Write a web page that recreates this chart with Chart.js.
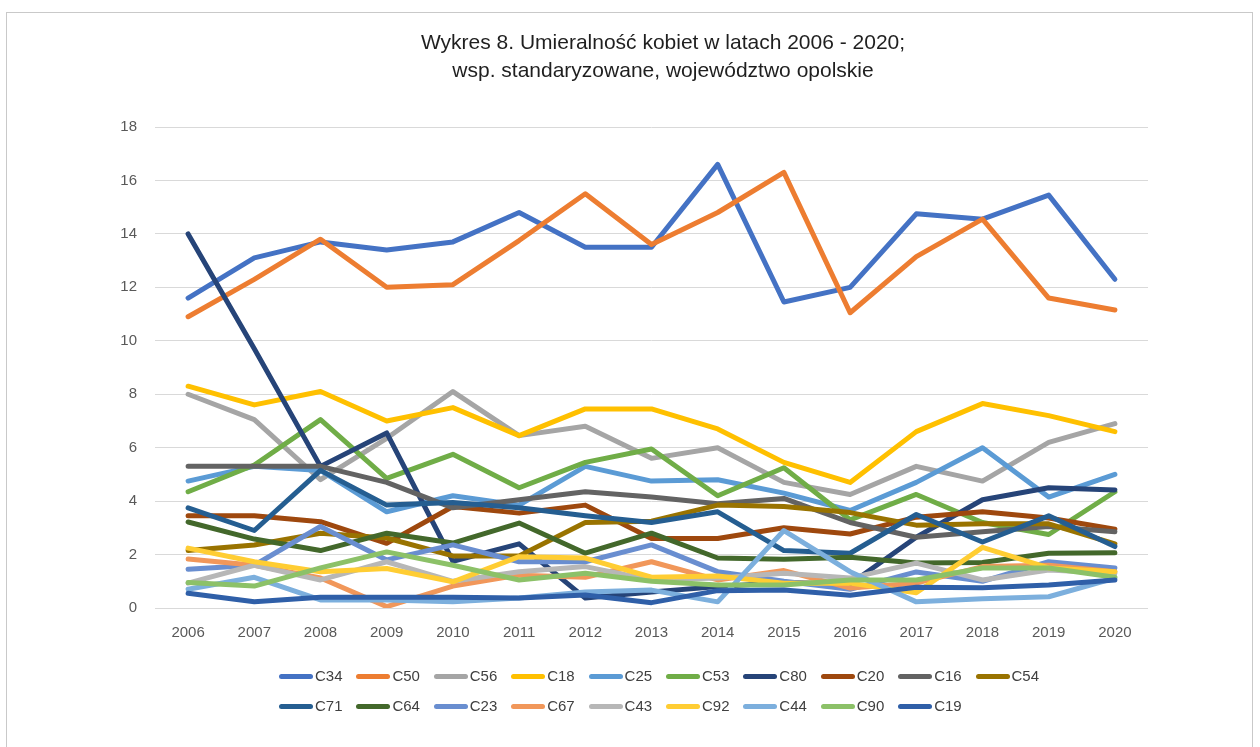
<!DOCTYPE html>
<html lang="pl">
<head>
<meta charset="utf-8">
<title>Wykres 8</title>
<script src="https://cdn.jsdelivr.net/npm/chart.js"></script>
<style>
  html, body { margin: 0; padding: 0; background: #fff; }
  body { width: 1260px; height: 747px; position: relative; overflow: hidden; font-family: "Liberation Sans", Arial, sans-serif; }
  #frame { position: absolute; left: 6px; top: 12px; width: 1247px; height: 760px; border: 1px solid #c9c9c9; box-sizing: border-box; }
  #chart { position: absolute; left: 0; top: 0; }
  #title { position: absolute; left: 313px; top: 28px; width: 700px; text-align: center; font-size: 21px; line-height: 28px; color: #1f1f1f; }
  #legend { position: absolute; left: 277px; top: 664px; width: 800px; }
  .row { height: 30px; white-space: nowrap; }
  .item { display: inline-block; width: 77.4px; height: 24px; position: relative; font-size: 15px; color: #404040; }
  .item i { position: absolute; left: 2px; top: 10px; width: 34px; height: 5px; border-radius: 3px; }
  .item span { position: absolute; left: 38px; top: 3px; }
</style>
</head>
<body>
<div id="frame"></div>
<canvas id="chart" width="1260" height="747"></canvas>
<div id="title">Wykres 8. Umieralność kobiet w latach 2006 - 2020;<br>wsp. standaryzowane, województwo opolskie</div>
<div id="legend"></div>
<script>
// --- data ---
const years = ['2006', '2007', '2008', '2009', '2010', '2011', '2012', '2013', '2014', '2015', '2016', '2017', '2018', '2019', '2020'];

const c34 = [11.6, 13.1, 13.7, 13.4, 13.7, 14.8, 13.5, 13.5, 16.6, 11.45, 12.0, 14.75, 14.55, 15.45, 12.3];
const c50 = [10.9, 12.3, 13.8, 12.0, 12.1, 13.75, 15.5, 13.6, 14.8, 16.3, 11.05, 13.15, 14.55, 11.6, 11.15];
const c56 = [8.0, 7.05, 4.8, 6.35, 8.1, 6.45, 6.8, 5.6, 6.0, 4.7, 4.25, 5.3, 4.75, 6.2, 6.9];
const c18 = [8.3, 7.6, 8.1, 7.0, 7.5, 6.45, 7.45, 7.45, 6.7, 5.45, 4.7, 6.6, 7.65, 7.2, 6.6];
const c25 = [4.75, 5.3, 5.15, 3.6, 4.2, 3.85, 5.3, 4.75, 4.8, 4.3, 3.65, 4.7, 6.0, 4.15, 5.0];
const c53 = [4.35, 5.35, 7.05, 4.85, 5.75, 4.5, 5.45, 5.95, 4.2, 5.25, 3.3, 4.25, 3.2, 2.75, 4.35];
const c80 = [14.0, 9.7, 5.3, 6.55, 1.75, 2.4, 0.37, 0.6, 0.8, 0.95, 0.9, 2.65, 4.05, 4.5, 4.42];
const c20 = [3.45, 3.45, 3.23, 2.42, 3.8, 3.55, 3.85, 2.6, 2.6, 3.0, 2.77, 3.4, 3.6, 3.37, 2.95];
const c16 = [5.3, 5.3, 5.3, 4.7, 3.75, 4.05, 4.35, 4.15, 3.9, 4.1, 3.2, 2.65, 2.85, 3.05, 2.85];
const c54 = [2.15, 2.36, 2.8, 2.62, 1.95, 1.95, 3.2, 3.25, 3.85, 3.8, 3.57, 3.1, 3.15, 3.15, 2.4];
const c71 = [3.75, 2.9, 5.15, 3.85, 3.95, 3.75, 3.45, 3.2, 3.6, 2.15, 2.05, 3.5, 2.47, 3.45, 2.3];
const c64 = [3.22, 2.58, 2.15, 2.8, 2.43, 3.18, 2.05, 2.8, 1.87, 1.82, 1.9, 1.68, 1.7, 2.05, 2.07];
const c23 = [1.45, 1.6, 3.05, 1.8, 2.36, 1.73, 1.73, 2.36, 1.36, 1.0, 0.7, 1.35, 1.0, 1.73, 1.5];
const c67 = [1.83, 1.6, 1.12, 0.05, 0.82, 1.23, 1.15, 1.73, 1.05, 1.4, 0.75, 0.93, 1.55, 1.6, 1.36];
const c43 = [0.93, 1.6, 1.05, 1.73, 1.0, 1.36, 1.55, 1.05, 1.12, 1.3, 1.12, 1.68, 1.05, 1.42, 1.3];
const c92 = [2.24, 1.73, 1.36, 1.48, 0.98, 1.92, 1.87, 1.15, 1.2, 0.93, 0.93, 0.57, 2.27, 1.5, 1.36];
const c44 = [0.7, 1.15, 0.3, 0.3, 0.23, 0.37, 0.6, 0.67, 0.23, 2.9, 1.36, 0.23, 0.35, 0.42, 1.12];
const c90 = [0.95, 0.82, 1.5, 2.1, 1.6, 1.05, 1.3, 1.0, 0.86, 0.86, 1.05, 1.05, 1.5, 1.5, 1.15];
const c19 = [0.55, 0.23, 0.4, 0.4, 0.4, 0.37, 0.49, 0.2, 0.65, 0.67, 0.48, 0.78, 0.76, 0.86, 1.05];

const seriesNames = ['C34', 'C50', 'C56', 'C18', 'C25', 'C53', 'C80', 'C20', 'C16', 'C54',
                     'C71', 'C64', 'C23', 'C67', 'C43', 'C92', 'C44', 'C90', 'C19'];
const seriesValues = [c34, c50, c56, c18, c25, c53, c80, c20, c16, c54,
                      c71, c64, c23, c67, c43, c92, c44, c90, c19];
// Office palette
const seriesColors = ['#4472C4', '#ED7D31', '#A5A5A5', '#FFC000', '#5B9BD5', '#70AD47', '#264478', '#9E480E', '#636363', '#997300',
                      '#255E91', '#43682B', '#698ED0', '#F1975A', '#B7B7B7', '#FFCD33', '#7CAFDD', '#8CC168', '#2F5FA8'];

const yTicks = [0, 2, 4, 6, 8, 10, 12, 14, 16, 18];

// later series are painted on top, like in Excel
const datasets = seriesNames.map((name, i) => ({
    label: name,
    data: seriesValues[i],
    borderColor: seriesColors[i],
    backgroundColor: seriesColors[i],
    borderWidth: 5,
    pointRadius: 0,
    tension: 0,
    borderCapStyle: 'round',
    borderJoinStyle: 'round',
    fill: false,
    order: seriesNames.length - i
}));

const tickFont = { family: '"Liberation Sans", Arial, sans-serif', size: 15 };

new Chart(document.getElementById('chart').getContext('2d'), {
    type: 'line',
    data: { labels: years, datasets: datasets },
    options: {
        responsive: false,
        animation: false,
        layout: { padding: { left: 0, right: 112, top: 127, bottom: 99 } },
        plugins: {
            legend: { display: false },
            title: { display: false },
            tooltip: { enabled: false }
        },
        scales: {
            x: {
                offset: true,
                grid: { display: false, drawTicks: false },
                border: { display: false },
                ticks: { color: '#595959', font: tickFont, padding: 16, maxRotation: 0 },
                afterFit: s => { s.height = 40; }
            },
            y: {
                min: yTicks[0],
                max: yTicks[yTicks.length - 1],
                grid: { color: '#d9d9d9', lineWidth: 1, drawTicks: false },
                border: { display: false },
                ticks: { stepSize: 2, color: '#595959', font: tickFont, padding: 18 },
                afterFit: s => { s.width = 155; }
            }
        }
    }
});

// legend, left aligned rows like Excel
const legendEl = document.getElementById('legend');
[seriesNames.slice(0, 10), seriesNames.slice(10)].forEach((rowNames, r) => {
    const row = document.createElement('div');
    row.className = 'row';
    rowNames.forEach((name, k) => {
        const idx = r * 10 + k;
        const item = document.createElement('div');
        item.className = 'item';
        item.innerHTML = '<i style="background:' + seriesColors[idx] + '"></i><span>' + name + '</span>';
        row.appendChild(item);
    });
    legendEl.appendChild(row);
});
</script>
</body>
</html>
